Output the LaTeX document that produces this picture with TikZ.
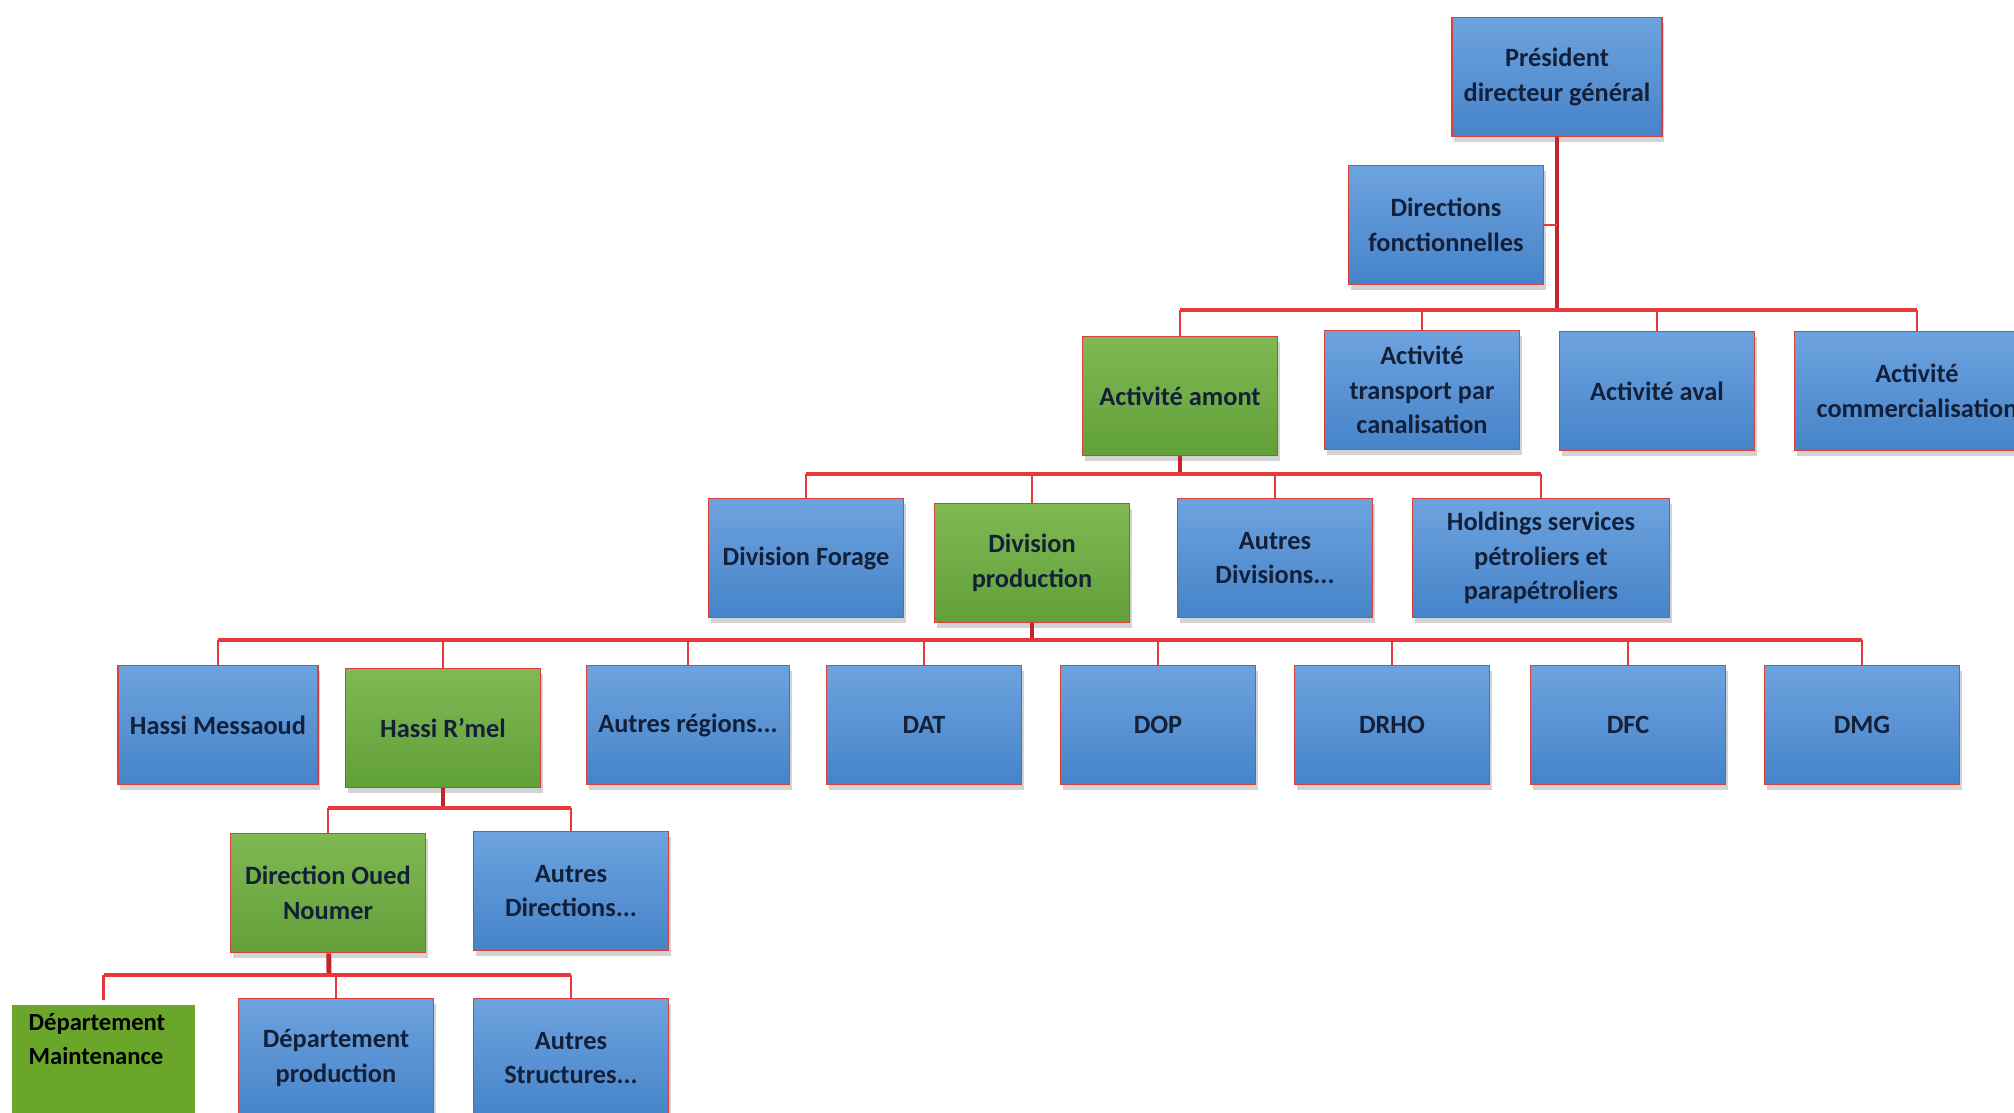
\documentclass[tikz,border=0pt]{standalone}
\usepackage{fontspec}
\setmainfont{Carlito}
\usetikzlibrary{shadows}
\definecolor{boxblue}{HTML}{6DA3DF}
\definecolor{boxblued}{HTML}{4683C9}
\definecolor{boxgreen}{HTML}{80B852}
\definecolor{boxgreend}{HTML}{62A03A}
\definecolor{edgered}{HTML}{D8403C}
\definecolor{linkred}{HTML}{E8383B}
\definecolor{trunkred}{HTML}{C0262C}
\definecolor{flatgreen}{HTML}{6AA62A}
\definecolor{txtnavy}{HTML}{13203A}

\begin{document}
\begin{tikzpicture}[x=0.01cm,y=-0.01cm,font=\fontsize{7.5}{9.9}\selectfont\bfseries]
\tikzstyle{org}=[draw=edgered,line width=0.5pt,top color=boxblue,bottom color=boxblued,minimum width=1.95cm,minimum height=1.19cm,align=center,text=txtnavy,drop shadow={shadow xshift=0.6pt,shadow yshift=-1.6pt,opacity=0.35}]
\tikzstyle{orgg}=[org,top color=boxgreen,bottom color=boxgreend]
\tikzstyle{bus}=[draw=linkred,line width=1.2pt]
\tikzstyle{trunk}=[draw=trunkred,line width=1.4pt]
\tikzstyle{lnk}=[draw=linkred,line width=0.7pt]
\useasboundingbox (0,0) rectangle (2014,1113);
\clip (0,0) rectangle (2014,1113);
\node[org] (pdg) at (1557,77) {Président\\directeur général};
\node[org] (dirf) at (1446,225) {Directions\\fonctionnelles};
\node[orgg] (amont) at (1180,396) {Activité amont};
\node[org] (transp) at (1422,390) {Activité\\transport par\\canalisation};
\node[org] (aval) at (1657,391) {Activité aval};
\node[org,minimum width=2.45cm] (comm) at (1917,391) {Activité\\commercialisation};
\node[org] (forage) at (806,558) {Division Forage};
\node[orgg] (dprod) at (1032,563) {Division\\production};
\node[org] (adiv) at (1275,558) {Autres\\Divisions...};
\node[org,minimum width=2.57cm] (hold) at (1541,558) {Holdings services\\pétroliers et\\parapétroliers};
\node[org] (hmd) at (218,725) {Hassi Messaoud};
\node[orgg] (hrm) at (443,728) {Hassi R'mel};
\node[org] (areg) at (688,725) {Autres régions...};
\node[org] (dat) at (924,725) {DAT};
\node[org] (dop) at (1158,725) {DOP};
\node[org] (drho) at (1392,725) {DRHO};
\node[org] (dfc) at (1628,725) {DFC};
\node[org] (dmg) at (1862,725) {DMG};
\node[orgg] (don) at (328,893) {Direction Oued\\Noumer};
\node[org] (adir) at (571,891) {Autres\\Directions...};
\node[org] (depprod) at (336,1058) {Département\\production};
\node[org] (astr) at (571,1058) {Autres\\Structures...};
\node[fill=flatgreen,draw=white,line width=1.5pt,anchor=north west,text width=1.5cm,inner xsep=0.19cm,inner ysep=3pt,text depth=0.75cm,align=left,font=\fontsize{7}{9.9}\selectfont\bfseries] (maint) at (7,1000) {Département\\Maintenance};
\coordinate (b1) at (1557,310);
\coordinate (b2) at (1180,474);
\coordinate (b3) at (1032,640);
\coordinate (b4) at (443,808);
\coordinate (b5) at (329,975);
\draw[trunk] (pdg) -- (b1);
\draw[lnk] (dirf.east) -- (dirf.east -| b1);
\draw[bus] (b1 -| amont) -- (b1 -| comm);
\foreach \n in {amont,transp,aval,comm} \draw[lnk] (b1 -| \n) -- (\n);
\draw[trunk] (amont) -- (b2);
\draw[bus] (b2 -| forage) -- (b2 -| hold);
\foreach \n in {forage,dprod,adiv,hold} \draw[lnk] (b2 -| \n) -- (\n);
\draw[trunk] (dprod) -- (b3);
\draw[bus] (b3 -| hmd) -- (b3 -| dmg);
\foreach \n in {hmd,hrm,areg,dat,dop,drho,dfc,dmg} \draw[lnk] (b3 -| \n) -- (\n);
\draw[trunk] (hrm) -- (b4);
\draw[bus] (b4 -| don) -- (b4 -| adir);
\foreach \n in {don,adir} \draw[lnk] (b4 -| \n) -- (\n);
\draw[trunk] (don) -- (b5);
\draw[bus] (b5 -| maint) -- (b5 -| astr);
\foreach \n in {maint,depprod,astr} \draw[lnk] (b5 -| \n) -- (\n);
\end{tikzpicture}
\end{document}
